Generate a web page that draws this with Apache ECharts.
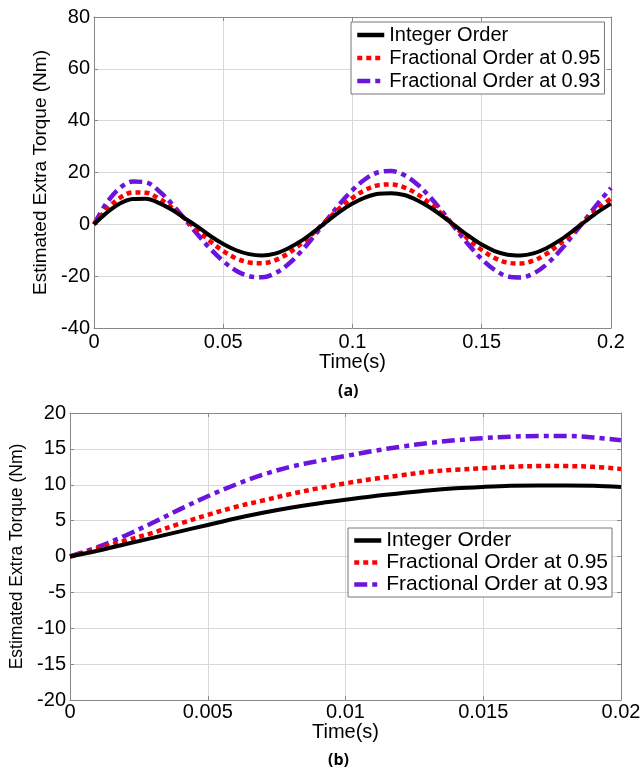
<!DOCTYPE html>
<html>
<head>
<meta charset="utf-8">
<script src="https://cdn.jsdelivr.net/npm/echarts@6/dist/echarts.min.js"></script>
<style>
html,body{margin:0;padding:0;background:#fff;}
#c{width:644px;height:771px;}
</style>
</head>
<body>
<div id="c"></div>
<script>
// ---------- data: plot (a) ----------
const timeA = [0,0.005,0.01,0.015,0.02,0.025,0.03,0.035,0.04,0.045,0.05,0.055,0.06,0.065,0.07,0.075,0.08,0.085,0.09,0.095,0.1,0.105,0.11,0.115,0.12,0.125,0.13,0.135,0.14,0.145,0.15,0.155,0.16,0.165,0.17,0.175,0.18,0.185,0.19,0.195,0.2];
const integerA = [0,4.5,8,9.8,9.9,8.3,5.7,2.4,-0.9,-4.5,-7.6,-10,-11.5,-12,-11.3,-9.3,-6.5,-2.9,1.0,4.8,8.0,10.4,11.8,12,11.3,9.3,6.5,3.0,-0.8,-4.5,-7.8,-10.3,-11.7,-12,-11.2,-9.2,-6.3,-2.7,1.1,4.8,8.0];
const frac095A = [0,5.8,10.2,12.3,12.2,10.0,6.6,2.3,-2.2,-6.6,-10.3,-13.1,-14.7,-15,-13.9,-11.3,-7.6,-3.2,1.6,6.2,10.2,13.3,15.1,15.4,14.3,11.7,8.0,3.6,-1.2,-5.9,-9.9,-13.0,-14.8,-15.1,-14.0,-11.4,-7.6,-3.2,1.5,6.0,10.0];
const frac093A = [0,8.4,14.0,16.5,16.2,13.0,8.0,2.2,-3.8,-9.4,-14.2,-17.9,-20.0,-20.4,-18.9,-15.5,-10.6,-4.7,1.6,7.8,13.2,17.5,20.1,20.6,19.0,15.5,10.5,4.6,-1.8,-8.0,-13.4,-17.6,-20.1,-20.5,-19.0,-15.5,-10.5,-4.5,1.8,8.2,14.0];
const xTicksA = ['0','0.05','0.1','0.15','0.2'];
const yTicksA = ['-40','-20','0','20','40','60','80'];

// ---------- data: plot (b) ----------
const timeB = [0,0.001,0.002,0.003,0.004,0.005,0.006,0.007,0.008,0.009,0.01,0.011,0.012,0.013,0.014,0.015,0.016,0.017,0.018,0.019,0.02];
const integerB = [0,0.8,1.7,2.6,3.5,4.4,5.3,6.1,6.8,7.4,7.9,8.4,8.8,9.2,9.5,9.7,9.85,9.9,9.9,9.85,9.7];
const frac095B = [0,1.1,2.2,3.3,4.6,5.8,6.9,7.8,8.7,9.5,10.2,10.8,11.3,11.8,12.1,12.3,12.5,12.6,12.6,12.5,12.2];
const frac093B = [0,1.3,2.9,4.7,6.6,8.4,10.0,11.4,12.5,13.3,14.0,14.7,15.3,15.8,16.2,16.5,16.7,16.8,16.8,16.6,16.2];
const xTicksB = ['0','0.005','0.01','0.015','0.02'];
const yTicksB = ['-20','-15','-10','-5','0','5','10','15','20'];

const seriesNames = ['Integer Order','Fractional Order at 0.95','Fractional Order at 0.93'];
const captions = ['(a)','(b)'];
const axisTitleX = 'Time(s)';
const axisTitleY = 'Estimated Extra Torque (Nm)';

// ---------- styling ----------
const FONT = 'Liberation Sans';
const styles = [
  {color:'#000000', width:4, type:'solid'},
  {color:'#ff0000', width:4.5, type:[5,4]},
  {color:'#6a14dc', width:4.5, type:[13,5,5,5]}
];
function pair(t, v){ return t.map((x,i)=>[x, v[i]]); }
function fmt(v){ return String(parseFloat(v.toFixed(6))); }

function mkX(gi, min, max, interval, ticks, fs, labMargin, nameGap){
  return {
    type:'value', gridIndex:gi, min:min, max:max, interval:interval,
    name:axisTitleX, nameLocation:'middle', nameGap:nameGap,
    nameTextStyle:{fontFamily:FONT, fontSize:fs, color:'#000'},
    axisLine:{show:true, onZero:false, lineStyle:{color:'#888', width:1}},
    axisTick:{show:true, inside:true, length:4, lineStyle:{color:'#888'}},
    axisLabel:{fontFamily:FONT, fontSize:fs, color:'#000', margin:labMargin,
      formatter:(v)=>{ const s=fmt(v); return ticks.includes(s)? s : ''; }},
    splitLine:{show:true, lineStyle:{color:'#d8d8d8', width:1}}
  };
}
function mkXTop(gi, min, max, interval){
  return {
    type:'value', gridIndex:gi, min:min, max:max, interval:interval, position:'top',
    axisLine:{show:true, onZero:false, lineStyle:{color:'#888', width:1}},
    axisTick:{show:true, inside:true, length:4, lineStyle:{color:'#888'}},
    axisLabel:{show:false}, splitLine:{show:false}
  };
}
function mkY(gi, min, max, interval, ticks, fs, nfs, nameGap){
  return {
    type:'value', gridIndex:gi, min:min, max:max, interval:interval,
    name:axisTitleY, nameLocation:'middle', nameGap:nameGap, nameRotate:90,
    nameTextStyle:{fontFamily:FONT, fontSize:nfs, color:'#000'},
    axisLine:{show:true, onZero:false, lineStyle:{color:'#888', width:1}},
    axisTick:{show:true, inside:true, length:4, lineStyle:{color:'#888'}},
    axisLabel:{fontFamily:FONT, fontSize:fs, color:'#000', margin:4,
      formatter:(v)=>{ const s=fmt(v); return ticks.includes(s)? s : ''; }},
    splitLine:{show:true, lineStyle:{color:'#d8d8d8', width:1}}
  };
}
function mkYRight(gi, min, max, interval){
  return {
    type:'value', gridIndex:gi, min:min, max:max, interval:interval, position:'right',
    axisLine:{show:true, onZero:false, lineStyle:{color:'#888', width:1}},
    axisTick:{show:true, inside:true, length:4, lineStyle:{color:'#888'}},
    axisLabel:{show:false}, splitLine:{show:false}
  };
}
function mkSeries(name, data, gi, st, z){
  return {
    type:'line', name:name, xAxisIndex:gi, yAxisIndex:gi, data:data,
    showSymbol:false, symbol:'none', smooth:0.35, animation:false,
    lineStyle:{color:st.color, width:st.width, type:st.type, cap:'butt'},
    itemStyle:{color:st.color}, z:z
  };
}

const seriesA = [integerA, frac095A, frac093A];
const seriesB = [integerB, frac095B, frac093B];
const series = [];
seriesA.forEach((v,i)=>series.push(mkSeries(seriesNames[i], pair(timeA, v), 0, styles[i], 10-i)));
seriesB.forEach((v,i)=>series.push(mkSeries(seriesNames[i], pair(timeB, v), 1, styles[i], 10-i)));

const legendBase = {
  orient:'vertical', itemWidth:27, itemHeight:14,
  backgroundColor:'#fff', borderColor:'#777', borderWidth:1, borderRadius:0,
  selectedMode:false, data:seriesNames,
  itemStyle:{opacity:0},
  lineStyle:{width:4.5, cap:'butt'}
};

const option = {
  animation:false,
  backgroundColor:'#ffffff',
  grid:[
    {left:94, right:33, top:17, height:311},
    {left:70, right:23, top:413, height:287}
  ],
  xAxis:[
    mkX(0, 0, 0.2, 0.05, xTicksA, 20, 4, 22),
    mkX(1, 0, 0.02, 0.005, xTicksB, 20, 2, 20),
    mkXTop(0, 0, 0.2, 0.05),
    mkXTop(1, 0, 0.02, 0.005)
  ],
  yAxis:[
    mkY(0, -40, 80, 20, yTicksA, 20, 19, 39),
    mkY(1, -20, 20, 5, yTicksB, 20, 17.5, 42),
    mkYRight(0, -40, 80, 20),
    mkYRight(1, -20, 20, 5)
  ],
  legend:[
    Object.assign({}, legendBase, {left:351, top:22, padding:[3,4,3,4], itemGap:3,
      textStyle:{fontFamily:FONT, fontSize:20, color:'#000', lineHeight:20}}),
    Object.assign({}, legendBase, {left:348, top:528, padding:[2,4,2,4], itemGap:1,
      textStyle:{fontFamily:FONT, fontSize:21, color:'#000', lineHeight:20}})
  ],
  graphic:[
    {type:'text', left:351-13, top:383, style:{text:captions[0], font:'bold 16px "Open Sans"', fill:'#000'}},
    {type:'text', left:341-13, top:752, style:{text:captions[1], font:'bold 16px "Open Sans"', fill:'#000'}}
  ],
  series:series
};
const chart = echarts.init(document.getElementById('c'), null, {renderer:'canvas'});
chart.setOption(option);
</script>
</body>
</html>
